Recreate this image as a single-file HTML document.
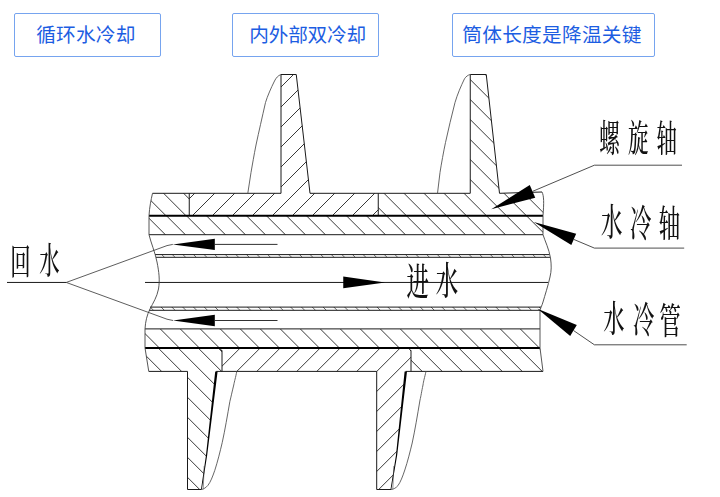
<!DOCTYPE html>
<html lang="zh"><head><meta charset="utf-8"><title>水冷螺旋轴</title>
<style>
html,body{margin:0;padding:0;background:#fff;}
body{width:720px;height:497px;position:relative;overflow:hidden;font-family:"Liberation Sans","Noto Sans CJK SC",sans-serif;}
.bt{font-family:"Liberation Sans","Noto Sans CJK SC",sans-serif;fill:#1c5de2;}
.lb{font-family:"Liberation Serif","Noto Serif CJK SC",serif;font-weight:500;fill:#111;}
</style></head><body>
<svg width="720" height="497" viewBox="0 0 720 497" style="position:absolute;left:0;top:0"><defs><clipPath id="cA"><polygon points="152.5,193.3 189.25,193.3 189.25,215.7 149,215.7 150,205"/></clipPath><clipPath id="cB"><polygon points="189.25,193.3 281,193.3 281,74.5 296.25,74.5 310,193.3 378.25,193.3 378.25,215.7 189.25,215.7"/></clipPath><clipPath id="cC"><polygon points="378.25,193.3 470.25,193.3 470.25,74.5 486.25,74.5 499.5,193.3 542,192 544,199 543,215.7 378.25,215.7"/></clipPath><clipPath id="cD"><polygon points="149,215.7 543,215.7 543,234.7 149,234.7"/></clipPath><clipPath id="cE"><polygon points="155,254.6 549.5,254.6 550,257.3 156,257.3"/></clipPath><clipPath id="cF"><polygon points="150,307.1 541,307.1 540,310.3 149,310.3"/></clipPath><clipPath id="cG"><polygon points="145,328.9 540,328.9 540,347.9 145,347.9"/></clipPath><clipPath id="cH"><polygon points="145,347.9 222,347.9 222,371.4 216.2,371.4 206.5,455 201.5,489.5 187.5,489.5 187.5,371.4 148.75,371.4"/></clipPath><clipPath id="cI"><polygon points="222,347.9 411,347.9 411,371.4 405.6,371.4 396.5,455 391,489.5 376.7,489.5 376.7,371.4 222,371.4"/></clipPath><clipPath id="cJ"><polygon points="411,347.9 540,347.9 543,371.4 411,371.4"/></clipPath></defs><path clip-path="url(#cA)" d="M-369.70 60L67.30 497M-349.70 60L87.30 497M-329.70 60L107.30 497M-309.70 60L127.30 497M-289.70 60L147.30 497M-269.70 60L167.30 497M-249.70 60L187.30 497M-229.70 60L207.30 497M-209.70 60L227.30 497M-189.70 60L247.30 497M-169.70 60L267.30 497M-149.70 60L287.30 497M-129.70 60L307.30 497M-109.70 60L327.30 497M-89.70 60L347.30 497M-69.70 60L367.30 497M-49.70 60L387.30 497M-29.70 60L407.30 497M-9.70 60L427.30 497M10.30 60L447.30 497M30.30 60L467.30 497M50.30 60L487.30 497M70.30 60L507.30 497M90.30 60L527.30 497M110.30 60L547.30 497M130.30 60L567.30 497M150.30 60L587.30 497M170.30 60L607.30 497M190.30 60L627.30 497M210.30 60L647.30 497M230.30 60L667.30 497M250.30 60L687.30 497M270.30 60L707.30 497M290.30 60L727.30 497M310.30 60L747.30 497M330.30 60L767.30 497M350.30 60L787.30 497M370.30 60L807.30 497M390.30 60L827.30 497M410.30 60L847.30 497M430.30 60L867.30 497M450.30 60L887.30 497M470.30 60L907.30 497M490.30 60L927.30 497M510.30 60L947.30 497M530.30 60L967.30 497M550.30 60L987.30 497M570.30 60L1007.30 497M590.30 60L1027.30 497M610.30 60L1047.30 497M630.30 60L1067.30 497" stroke="#222" stroke-width="0.9" fill="none"/>
<path clip-path="url(#cB)" d="M68.00 60L-369.00 497M88.00 60L-349.00 497M108.00 60L-329.00 497M128.00 60L-309.00 497M148.00 60L-289.00 497M168.00 60L-269.00 497M188.00 60L-249.00 497M208.00 60L-229.00 497M228.00 60L-209.00 497M248.00 60L-189.00 497M268.00 60L-169.00 497M288.00 60L-149.00 497M308.00 60L-129.00 497M328.00 60L-109.00 497M348.00 60L-89.00 497M368.00 60L-69.00 497M388.00 60L-49.00 497M408.00 60L-29.00 497M428.00 60L-9.00 497M448.00 60L11.00 497M468.00 60L31.00 497M488.00 60L51.00 497M508.00 60L71.00 497M528.00 60L91.00 497M548.00 60L111.00 497M568.00 60L131.00 497M588.00 60L151.00 497M608.00 60L171.00 497M628.00 60L191.00 497M648.00 60L211.00 497M668.00 60L231.00 497M688.00 60L251.00 497M708.00 60L271.00 497M728.00 60L291.00 497M748.00 60L311.00 497M768.00 60L331.00 497M788.00 60L351.00 497M808.00 60L371.00 497M828.00 60L391.00 497M848.00 60L411.00 497M868.00 60L431.00 497M888.00 60L451.00 497M908.00 60L471.00 497M928.00 60L491.00 497M948.00 60L511.00 497M968.00 60L531.00 497M988.00 60L551.00 497M1008.00 60L571.00 497M1028.00 60L591.00 497M1048.00 60L611.00 497M1068.00 60L631.00 497" stroke="#222" stroke-width="0.9" fill="none"/>
<path clip-path="url(#cC)" d="M-369.30 60L67.70 497M-349.30 60L87.70 497M-329.30 60L107.70 497M-309.30 60L127.70 497M-289.30 60L147.70 497M-269.30 60L167.70 497M-249.30 60L187.70 497M-229.30 60L207.70 497M-209.30 60L227.70 497M-189.30 60L247.70 497M-169.30 60L267.70 497M-149.30 60L287.70 497M-129.30 60L307.70 497M-109.30 60L327.70 497M-89.30 60L347.70 497M-69.30 60L367.70 497M-49.30 60L387.70 497M-29.30 60L407.70 497M-9.30 60L427.70 497M10.70 60L447.70 497M30.70 60L467.70 497M50.70 60L487.70 497M70.70 60L507.70 497M90.70 60L527.70 497M110.70 60L547.70 497M130.70 60L567.70 497M150.70 60L587.70 497M170.70 60L607.70 497M190.70 60L627.70 497M210.70 60L647.70 497M230.70 60L667.70 497M250.70 60L687.70 497M270.70 60L707.70 497M290.70 60L727.70 497M310.70 60L747.70 497M330.70 60L767.70 497M350.70 60L787.70 497M370.70 60L807.70 497M390.70 60L827.70 497M410.70 60L847.70 497M430.70 60L867.70 497M450.70 60L887.70 497M470.70 60L907.70 497M490.70 60L927.70 497M510.70 60L947.70 497M530.70 60L967.70 497M550.70 60L987.70 497M570.70 60L1007.70 497M590.70 60L1027.70 497M610.70 60L1047.70 497M630.70 60L1067.70 497" stroke="#222" stroke-width="0.9" fill="none"/>
<path clip-path="url(#cD)" d="M-369.30 60L67.70 497M-349.30 60L87.70 497M-329.30 60L107.70 497M-309.30 60L127.70 497M-289.30 60L147.70 497M-269.30 60L167.70 497M-249.30 60L187.70 497M-229.30 60L207.70 497M-209.30 60L227.70 497M-189.30 60L247.70 497M-169.30 60L267.70 497M-149.30 60L287.70 497M-129.30 60L307.70 497M-109.30 60L327.70 497M-89.30 60L347.70 497M-69.30 60L367.70 497M-49.30 60L387.70 497M-29.30 60L407.70 497M-9.30 60L427.70 497M10.70 60L447.70 497M30.70 60L467.70 497M50.70 60L487.70 497M70.70 60L507.70 497M90.70 60L527.70 497M110.70 60L547.70 497M130.70 60L567.70 497M150.70 60L587.70 497M170.70 60L607.70 497M190.70 60L627.70 497M210.70 60L647.70 497M230.70 60L667.70 497M250.70 60L687.70 497M270.70 60L707.70 497M290.70 60L727.70 497M310.70 60L747.70 497M330.70 60L767.70 497M350.70 60L787.70 497M370.70 60L807.70 497M390.70 60L827.70 497M410.70 60L847.70 497M430.70 60L867.70 497M450.70 60L887.70 497M470.70 60L907.70 497M490.70 60L927.70 497M510.70 60L947.70 497M530.70 60L967.70 497M550.70 60L987.70 497M570.70 60L1007.70 497M590.70 60L1027.70 497M610.70 60L1047.70 497M630.70 60L1067.70 497" stroke="#222" stroke-width="0.9" fill="none"/>
<path clip-path="url(#cE)" d="M-350.85 60L86.15 497M-340.25 60L96.75 497M-329.65 60L107.35 497M-319.05 60L117.95 497M-308.45 60L128.55 497M-297.85 60L139.15 497M-287.25 60L149.75 497M-276.65 60L160.35 497M-266.05 60L170.95 497M-255.45 60L181.55 497M-244.85 60L192.15 497M-234.25 60L202.75 497M-223.65 60L213.35 497M-213.05 60L223.95 497M-202.45 60L234.55 497M-191.85 60L245.15 497M-181.25 60L255.75 497M-170.65 60L266.35 497M-160.05 60L276.95 497M-149.45 60L287.55 497M-138.85 60L298.15 497M-128.25 60L308.75 497M-117.65 60L319.35 497M-107.05 60L329.95 497M-96.45 60L340.55 497M-85.85 60L351.15 497M-75.25 60L361.75 497M-64.65 60L372.35 497M-54.05 60L382.95 497M-43.45 60L393.55 497M-32.85 60L404.15 497M-22.25 60L414.75 497M-11.65 60L425.35 497M-1.05 60L435.95 497M9.55 60L446.55 497M20.15 60L457.15 497M30.75 60L467.75 497M41.35 60L478.35 497M51.95 60L488.95 497M62.55 60L499.55 497M73.15 60L510.15 497M83.75 60L520.75 497M94.35 60L531.35 497M104.95 60L541.95 497M115.55 60L552.55 497M126.15 60L563.15 497M136.75 60L573.75 497M147.35 60L584.35 497M157.95 60L594.95 497M168.55 60L605.55 497M179.15 60L616.15 497M189.75 60L626.75 497M200.35 60L637.35 497M210.95 60L647.95 497M221.55 60L658.55 497M232.15 60L669.15 497M242.75 60L679.75 497M253.35 60L690.35 497M263.95 60L700.95 497M274.55 60L711.55 497M285.15 60L722.15 497M295.75 60L732.75 497M306.35 60L743.35 497M316.95 60L753.95 497M327.55 60L764.55 497M338.15 60L775.15 497M348.75 60L785.75 497M359.35 60L796.35 497M369.95 60L806.95 497M380.55 60L817.55 497M391.15 60L828.15 497M401.75 60L838.75 497M412.35 60L849.35 497M422.95 60L859.95 497M433.55 60L870.55 497M444.15 60L881.15 497M454.75 60L891.75 497M465.35 60L902.35 497M475.95 60L912.95 497M486.55 60L923.55 497M497.15 60L934.15 497M507.75 60L944.75 497M518.35 60L955.35 497M528.95 60L965.95 497M539.55 60L976.55 497M550.15 60L987.15 497M560.75 60L997.75 497M571.35 60L1008.35 497M581.95 60L1018.95 497M592.55 60L1029.55 497M603.15 60L1040.15 497M613.75 60L1050.75 497" stroke="#222" stroke-width="0.7" fill="none"/>
<path clip-path="url(#cF)" d="M-356.00 60L81.00 497M-345.20 60L91.80 497M-334.40 60L102.60 497M-323.60 60L113.40 497M-312.80 60L124.20 497M-302.00 60L135.00 497M-291.20 60L145.80 497M-280.40 60L156.60 497M-269.60 60L167.40 497M-258.80 60L178.20 497M-248.00 60L189.00 497M-237.20 60L199.80 497M-226.40 60L210.60 497M-215.60 60L221.40 497M-204.80 60L232.20 497M-194.00 60L243.00 497M-183.20 60L253.80 497M-172.40 60L264.60 497M-161.60 60L275.40 497M-150.80 60L286.20 497M-140.00 60L297.00 497M-129.20 60L307.80 497M-118.40 60L318.60 497M-107.60 60L329.40 497M-96.80 60L340.20 497M-86.00 60L351.00 497M-75.20 60L361.80 497M-64.40 60L372.60 497M-53.60 60L383.40 497M-42.80 60L394.20 497M-32.00 60L405.00 497M-21.20 60L415.80 497M-10.40 60L426.60 497M0.40 60L437.40 497M11.20 60L448.20 497M22.00 60L459.00 497M32.80 60L469.80 497M43.60 60L480.60 497M54.40 60L491.40 497M65.20 60L502.20 497M76.00 60L513.00 497M86.80 60L523.80 497M97.60 60L534.60 497M108.40 60L545.40 497M119.20 60L556.20 497M130.00 60L567.00 497M140.80 60L577.80 497M151.60 60L588.60 497M162.40 60L599.40 497M173.20 60L610.20 497M184.00 60L621.00 497M194.80 60L631.80 497M205.60 60L642.60 497M216.40 60L653.40 497M227.20 60L664.20 497M238.00 60L675.00 497M248.80 60L685.80 497M259.60 60L696.60 497M270.40 60L707.40 497M281.20 60L718.20 497M292.00 60L729.00 497M302.80 60L739.80 497M313.60 60L750.60 497M324.40 60L761.40 497M335.20 60L772.20 497M346.00 60L783.00 497M356.80 60L793.80 497M367.60 60L804.60 497M378.40 60L815.40 497M389.20 60L826.20 497M400.00 60L837.00 497M410.80 60L847.80 497M421.60 60L858.60 497M432.40 60L869.40 497M443.20 60L880.20 497M454.00 60L891.00 497M464.80 60L901.80 497M475.60 60L912.60 497M486.40 60L923.40 497M497.20 60L934.20 497M508.00 60L945.00 497M518.80 60L955.80 497M529.60 60L966.60 497M540.40 60L977.40 497M551.20 60L988.20 497M562.00 60L999.00 497M572.80 60L1009.80 497M583.60 60L1020.60 497M594.40 60L1031.40 497M605.20 60L1042.20 497M616.00 60L1053.00 497" stroke="#222" stroke-width="0.7" fill="none"/>
<path clip-path="url(#cG)" d="M-368.60 60L68.40 497M-348.60 60L88.40 497M-328.60 60L108.40 497M-308.60 60L128.40 497M-288.60 60L148.40 497M-268.60 60L168.40 497M-248.60 60L188.40 497M-228.60 60L208.40 497M-208.60 60L228.40 497M-188.60 60L248.40 497M-168.60 60L268.40 497M-148.60 60L288.40 497M-128.60 60L308.40 497M-108.60 60L328.40 497M-88.60 60L348.40 497M-68.60 60L368.40 497M-48.60 60L388.40 497M-28.60 60L408.40 497M-8.60 60L428.40 497M11.40 60L448.40 497M31.40 60L468.40 497M51.40 60L488.40 497M71.40 60L508.40 497M91.40 60L528.40 497M111.40 60L548.40 497M131.40 60L568.40 497M151.40 60L588.40 497M171.40 60L608.40 497M191.40 60L628.40 497M211.40 60L648.40 497M231.40 60L668.40 497M251.40 60L688.40 497M271.40 60L708.40 497M291.40 60L728.40 497M311.40 60L748.40 497M331.40 60L768.40 497M351.40 60L788.40 497M371.40 60L808.40 497M391.40 60L828.40 497M411.40 60L848.40 497M431.40 60L868.40 497M451.40 60L888.40 497M471.40 60L908.40 497M491.40 60L928.40 497M511.40 60L948.40 497M531.40 60L968.40 497M551.40 60L988.40 497M571.40 60L1008.40 497M591.40 60L1028.40 497M611.40 60L1048.40 497M631.40 60L1068.40 497" stroke="#222" stroke-width="0.9" fill="none"/>
<path clip-path="url(#cH)" d="M-369.80 60L67.20 497M-349.80 60L87.20 497M-329.80 60L107.20 497M-309.80 60L127.20 497M-289.80 60L147.20 497M-269.80 60L167.20 497M-249.80 60L187.20 497M-229.80 60L207.20 497M-209.80 60L227.20 497M-189.80 60L247.20 497M-169.80 60L267.20 497M-149.80 60L287.20 497M-129.80 60L307.20 497M-109.80 60L327.20 497M-89.80 60L347.20 497M-69.80 60L367.20 497M-49.80 60L387.20 497M-29.80 60L407.20 497M-9.80 60L427.20 497M10.20 60L447.20 497M30.20 60L467.20 497M50.20 60L487.20 497M70.20 60L507.20 497M90.20 60L527.20 497M110.20 60L547.20 497M130.20 60L567.20 497M150.20 60L587.20 497M170.20 60L607.20 497M190.20 60L627.20 497M210.20 60L647.20 497M230.20 60L667.20 497M250.20 60L687.20 497M270.20 60L707.20 497M290.20 60L727.20 497M310.20 60L747.20 497M330.20 60L767.20 497M350.20 60L787.20 497M370.20 60L807.20 497M390.20 60L827.20 497M410.20 60L847.20 497M430.20 60L867.20 497M450.20 60L887.20 497M470.20 60L907.20 497M490.20 60L927.20 497M510.20 60L947.20 497M530.20 60L967.20 497M550.20 60L987.20 497M570.20 60L1007.20 497M590.20 60L1027.20 497M610.20 60L1047.20 497M630.20 60L1067.20 497" stroke="#222" stroke-width="0.9" fill="none"/>
<path clip-path="url(#cI)" d="M68.20 60L-368.80 497M88.20 60L-348.80 497M108.20 60L-328.80 497M128.20 60L-308.80 497M148.20 60L-288.80 497M168.20 60L-268.80 497M188.20 60L-248.80 497M208.20 60L-228.80 497M228.20 60L-208.80 497M248.20 60L-188.80 497M268.20 60L-168.80 497M288.20 60L-148.80 497M308.20 60L-128.80 497M328.20 60L-108.80 497M348.20 60L-88.80 497M368.20 60L-68.80 497M388.20 60L-48.80 497M408.20 60L-28.80 497M428.20 60L-8.80 497M448.20 60L11.20 497M468.20 60L31.20 497M488.20 60L51.20 497M508.20 60L71.20 497M528.20 60L91.20 497M548.20 60L111.20 497M568.20 60L131.20 497M588.20 60L151.20 497M608.20 60L171.20 497M628.20 60L191.20 497M648.20 60L211.20 497M668.20 60L231.20 497M688.20 60L251.20 497M708.20 60L271.20 497M728.20 60L291.20 497M748.20 60L311.20 497M768.20 60L331.20 497M788.20 60L351.20 497M808.20 60L371.20 497M828.20 60L391.20 497M848.20 60L411.20 497M868.20 60L431.20 497M888.20 60L451.20 497M908.20 60L471.20 497M928.20 60L491.20 497M948.20 60L511.20 497M968.20 60L531.20 497M988.20 60L551.20 497M1008.20 60L571.20 497M1028.20 60L591.20 497M1048.20 60L611.20 497M1068.20 60L631.20 497" stroke="#222" stroke-width="0.9" fill="none"/>
<path clip-path="url(#cJ)" d="M-369.20 60L67.80 497M-349.20 60L87.80 497M-329.20 60L107.80 497M-309.20 60L127.80 497M-289.20 60L147.80 497M-269.20 60L167.80 497M-249.20 60L187.80 497M-229.20 60L207.80 497M-209.20 60L227.80 497M-189.20 60L247.80 497M-169.20 60L267.80 497M-149.20 60L287.80 497M-129.20 60L307.80 497M-109.20 60L327.80 497M-89.20 60L347.80 497M-69.20 60L367.80 497M-49.20 60L387.80 497M-29.20 60L407.80 497M-9.20 60L427.80 497M10.80 60L447.80 497M30.80 60L467.80 497M50.80 60L487.80 497M70.80 60L507.80 497M90.80 60L527.80 497M110.80 60L547.80 497M130.80 60L567.80 497M150.80 60L587.80 497M170.80 60L607.80 497M190.80 60L627.80 497M210.80 60L647.80 497M230.80 60L667.80 497M250.80 60L687.80 497M270.80 60L707.80 497M290.80 60L727.80 497M310.80 60L747.80 497M330.80 60L767.80 497M350.80 60L787.80 497M370.80 60L807.80 497M390.80 60L827.80 497M410.80 60L847.80 497M430.80 60L867.80 497M450.80 60L887.80 497M470.80 60L907.80 497M490.80 60L927.80 497M510.80 60L947.80 497M530.80 60L967.80 497M550.80 60L987.80 497M570.80 60L1007.80 497M590.80 60L1027.80 497M610.80 60L1047.80 497M630.80 60L1067.80 497" stroke="#222" stroke-width="0.9" fill="none"/>
<path d="M152.5 193.3H281V74.5H296.25L310 193.3H470.25V74.5H486.25L499.5 193.3L542 192M189.25 193.3V215.7M378.25 193.3V215.7M149 234.7H543M155 254.6H549.5M156 257.3H550M150 307.1H541M149 310.3H540M145 282.45H548M145 328.9H540M148.75 371.4H187.5V489.5H201.5M216.2 371.4H376.7V489.5H391M405.6 371.4H543M222 350.5V371.4M219.5 347.9L222 351M411 350.5V371.4M408.5 347.9L411 351" stroke="#1a1a1a" stroke-width="1.0" fill="none" />
<path d="M149 215.7H543" stroke="#000" stroke-width="2.0" fill="none" />
<path d="M145 347.9H540" stroke="#000" stroke-width="2.0" fill="none" />
<path d="M215.2 371.4L217.6 371.4L207.2 455L201.8 489.5L201.0 489.5L206.0 455Z" fill="#000"/>
<path d="M404.6 371.4L407.0 371.4L397.2 455L391.3 489.5L390.5 489.5L396.0 455Z" fill="#000"/>
<path d="M204.2 466L203.2 489.3M393.8 466L392.8 489.3" stroke="#444" stroke-width="0.6" fill="none" />
<path d="M152.5 193.3C151 200 149.5 207 149 215.7V234.7C151 243 155 252 157 262C159 272 160 280 158.5 289C157 297 153 303 150 309C147 315 145.5 321 145 328.9V347.9L148.75 371.4" stroke="#444" stroke-width="0.9" fill="none" />
<path d="M542 192C544 196 544 203 543 215.7V234.7C545 241 549 249 550.5 258C551.5 265 551.5 271 550 277C548 286 545 295 543 302C542 306 540 308 540 312V347.9L543 371.4" stroke="#444" stroke-width="0.9" fill="none" />
<path d="M281 74.5C278 75.5 276 78 274.5 81C271 88 267.5 96 265.5 102.5C262 118 259 131 256 145C254 155 252.5 164 251 172.5L247.8 193.3" stroke="#555" stroke-width="0.9" fill="none" />
<path d="M470.25 74.5C468 75 466 76.5 464.5 78.75C461 86 457.5 94 455 102.5C451.5 116 448.5 129 445.5 142.5C443.5 152 441.5 163 440 172.5L437.5 193.3" stroke="#555" stroke-width="0.9" fill="none" />
<path d="M236.8 371.4C235.5 378 234.5 381 233.75 385C232 392 231 397 229.9 401.3C227.5 415 225 430 222.2 442.7C220 452 217.5 462 214.8 470.3C212.5 477 210.5 482 207.9 485.4C206 487.5 204 489 201.5 489.5" stroke="#555" stroke-width="0.9" fill="none" />
<path d="M426 371.4C424.5 378 423.5 381 423 385C421.5 392 421 396 420 400C417.5 415 415 430 412.2 443C410 452 407.5 462 404.8 470C402.5 477 400.5 482 397.9 485.7C396 487.8 394 489.2 391 489.5" stroke="#555" stroke-width="0.9" fill="none" />
<polygon points="172.80,244.40 214.80,250.00 214.80,238.80" fill="#000"/>
<path d="M214.8 244.4H277.5" stroke="#1a1a1a" stroke-width="0.9" fill="none" />
<polygon points="173.00,320.50 214.80,326.20 214.80,314.80" fill="#000"/>
<path d="M214.8 320.5H277.5" stroke="#1a1a1a" stroke-width="0.9" fill="none" />
<polygon points="385.00,282.45 343.25,276.55 343.25,288.35" fill="#000"/>
<path d="M7 282.45H66.25" stroke="#1a1a1a" stroke-width="1.0" fill="none" />
<path d="M66.25 282.45L167 245.6L172.8 244.4M66.25 282.45L167 319.2L173 320.5" stroke="#333" stroke-width="0.8" fill="none" />
<polygon points="491.25,209.25 535.24,197.73 529.76,185.07" fill="#000"/>
<path d="M532.5 191.4L594.4 165.2H682" stroke="#222" stroke-width="0.8" fill="none" />
<polygon points="533.75,222.00 571.32,244.99 576.18,233.81" fill="#000"/>
<path d="M573.75 239.4L594.4 248.1H684.2" stroke="#222" stroke-width="0.8" fill="none" />
<polygon points="537.50,308.75 570.19,335.98 576.81,325.02" fill="#000"/>
<path d="M573.5 330.5L594.4 344.8H686.7" stroke="#222" stroke-width="0.8" fill="none" />
<g opacity="0.995"><text transform="scale(0.6011,1.0916)" x="997.13 1044.89 1092.30" y="138.94 139.11 139.03" font-size="34" class="lb">螺旋轴</text><text transform="scale(0.6294,1.0991)" x="954.86 1000.93 1046.69" y="214.94 215.24 215.49" font-size="34" class="lb">水冷轴</text><text transform="scale(0.6275,1.0770)" x="961.48 1008.58 1051.05" y="308.50 309.09 310.12" font-size="34" class="lb">水冷管</text><text transform="scale(0.5985,1.0635)" x="17.08 65.62" y="258.89 257.91" font-size="34" class="lb">回水</text><text transform="scale(0.6603,1.1130)" x="615.75 659.90" y="264.66 264.49" font-size="34" class="lb">进水</text></g>
<rect x="14.5" y="13.5" width="146.0" height="43.0" rx="1.5" ry="1.5" fill="#fff" stroke="#76a4ef" stroke-width="1"/><g opacity="0.995"><text x="36.2" y="42.3" font-size="19.7" class="bt" textLength="99.2" lengthAdjust="spacing">循环水冷却</text></g>
<rect x="232.5" y="13.5" width="146.0" height="43.0" rx="1.5" ry="1.5" fill="#fff" stroke="#76a4ef" stroke-width="1"/><g opacity="0.995"><text x="249.3" y="42.3" font-size="19.7" class="bt" textLength="116.8" lengthAdjust="spacing">内外部双冷却</text></g>
<rect x="452.5" y="13.5" width="202.0" height="43.0" rx="1.5" ry="1.5" fill="#fff" stroke="#76a4ef" stroke-width="1"/><g opacity="0.995"><text x="462.3" y="42.3" font-size="19.7" class="bt" textLength="179.2" lengthAdjust="spacing">筒体长度是降温关键</text></g></svg>
</body></html>
